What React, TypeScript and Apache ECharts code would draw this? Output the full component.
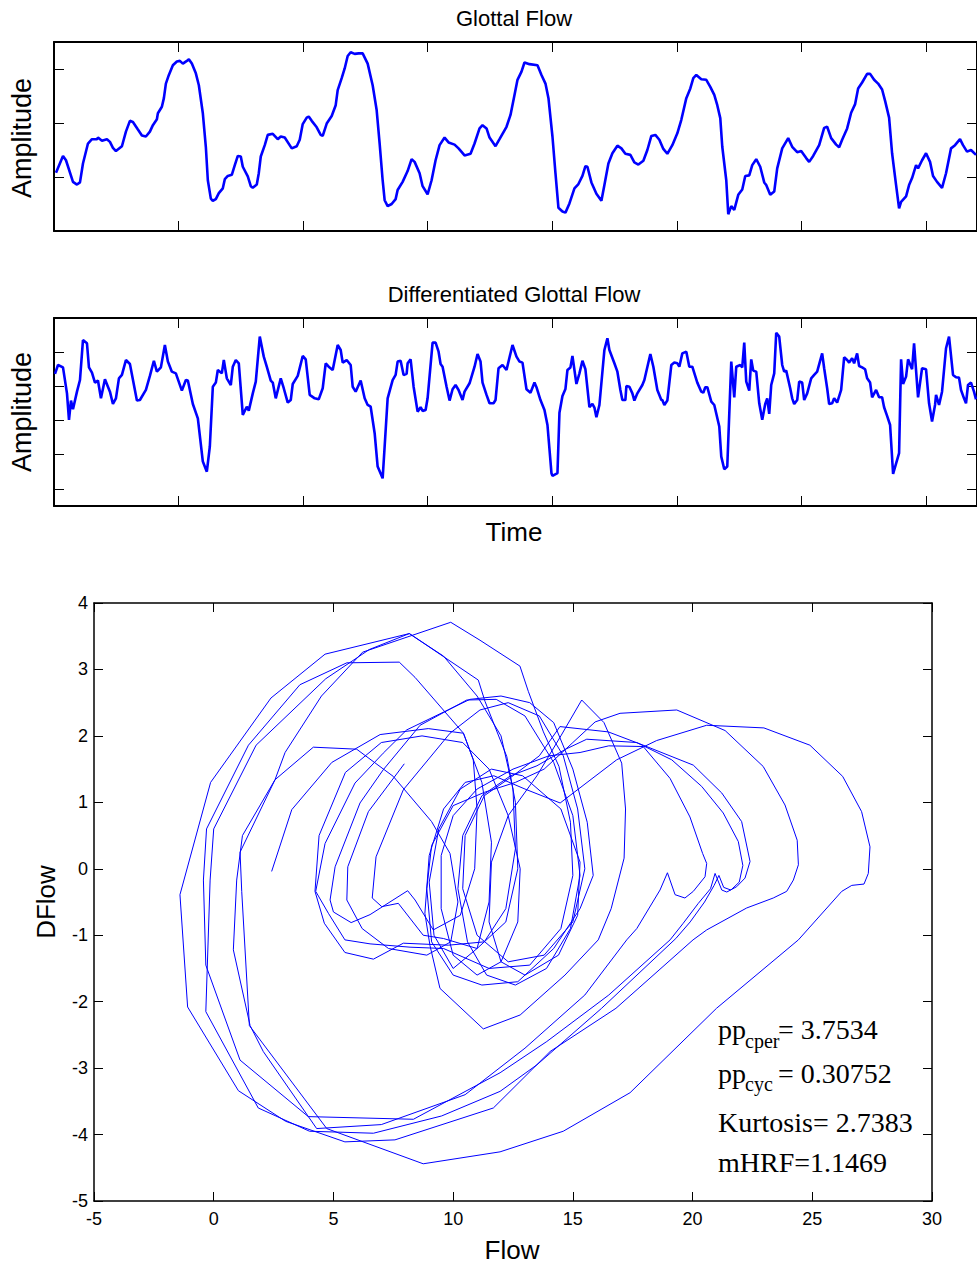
import React, { useEffect, useRef } from "react";
import * as echarts from "echarts";

// ---------- data ----------
// Time index (samples) / amplitude pairs, top panel
const glottalFlow: number[][] = [
  [2,1.08],[9,1.39],[12,1.31],[19,0.91],[23,0.86],[26,0.90],[29,1.25],[34,1.62],[38,1.70],[43,1.70],[44,1.73],[48,1.67],[53,1.70],[56,1.65],[59,1.54],[62,1.48],[68,1.57],[72,1.84],[76,2.04],[79,2.02],[84,1.88],[88,1.77],[92,1.75],[96,1.84],[99,1.96],[103,2.07],[104,2.18],[108,2.30],[110,2.46],[112,2.73],[115,2.89],[119,3.07],[123,3.14],[126,3.15],[129,3.10],[133,3.15],[135,3.18],[138,3.10],[142,2.92],[145,2.70],[149,2.18],[152,1.56],[154,0.94],[157,0.60],[159,0.56],[162,0.59],[165,0.70],[169,0.79],[171,0.96],[174,1.02],[178,1.04],[181,1.22],[184,1.39],[187,1.38],[189,1.19],[194,1.01],[197,0.83],[199,0.80],[203,0.86],[205,1.07],[207,1.38],[211,1.59],[214,1.78],[219,1.80],[224,1.70],[227,1.75],[231,1.73],[238,1.53],[243,1.57],[246,1.69],[249,1.98],[253,2.10],[255,2.12],[258,2.04],[263,1.92],[267,1.78],[269,1.76],[273,1.99],[278,2.13],[282,2.33],[284,2.61],[288,2.83],[291,3.01],[294,3.24],[297,3.31],[301,3.28],[305,3.29],[309,3.29],[314,3.10],[319,2.70],[323,2.24],[326,1.62],[329,0.94],[331,0.57],[334,0.46],[338,0.50],[342,0.59],[344,0.76],[349,0.91],[354,1.11],[358,1.33],[361,1.28],[366,1.07],[369,0.83],[374,0.68],[378,0.94],[382,1.31],[386,1.59],[391,1.73],[395,1.64],[401,1.60],[405,1.53],[411,1.40],[417,1.43],[421,1.62],[426,1.90],[429,1.96],[433,1.90],[436,1.73],[442,1.57],[446,1.70],[453,1.93],[457,2.15],[461,2.52],[464,2.80],[468,2.95],[471,3.12],[476,3.09],[484,3.07],[488,2.89],[492,2.73],[495,2.46],[499,1.75],[502,1.07],[505,0.43],[509,0.36],[512,0.34],[516,0.51],[521,0.79],[525,0.87],[529,1.02],[532,1.20],[534,1.19],[538,0.90],[543,0.69],[548,0.56],[551,0.85],[555,1.25],[559,1.44],[564,1.58],[568,1.53],[572,1.43],[577,1.41],[581,1.27],[585,1.23],[590,1.30],[594,1.50],[598,1.76],[602,1.78],[606,1.69],[610,1.52],[614,1.43],[619,1.59],[624,1.81],[628,2.06],[633,2.46],[637,2.64],[640,2.83],[643,2.89],[648,2.81],[653,2.80],[657,2.67],[661,2.52],[664,2.33],[667,2.09],[669,1.56],[673,0.94],[675,0.31],[678,0.46],[681,0.39],[685,0.67],[689,0.77],[692,1.02],[696,1.03],[699,1.22],[703,1.33],[707,1.19],[711,0.90],[713,0.85],[717,0.67],[721,0.73],[724,1.16],[729,1.53],[735,1.72],[739,1.56],[744,1.46],[748,1.48],[753,1.35],[756,1.28],[760,1.39],[766,1.59],[771,1.91],[774,1.93],[778,1.72],[783,1.60],[786,1.55],[789,1.69],[794,1.90],[798,2.19],[802,2.35],[805,2.64],[809,2.75],[814,2.91],[817,2.91],[821,2.80],[825,2.73],[829,2.62],[832,2.41],[836,2.10],[839,1.44],[843,0.85],[846,0.42],[848,0.54],[853,0.64],[856,0.85],[859,0.98],[863,1.22],[865,1.16],[869,1.31],[873,1.44],[877,1.28],[880,1.02],[884,0.91],[889,0.80],[893,1.07],[898,1.53],[902,1.59],[907,1.70],[910,1.59],[914,1.47],[918,1.50],[923,1.41]
];

// Time index / amplitude pairs, middle panel
const dGlottalFlow: number[][] = [
  [1,6.73],[4,7.25],[9,7.11],[13,5.59],[15,4.04],[17,5.17],[19,4.66],[23,5.69],[26,6.37],[29,8.71],[33,8.52],[35,7.11],[38,6.80],[41,6.22],[44,6.34],[47,5.30],[51,6.41],[56,5.69],[59,4.97],[62,5.30],[65,6.47],[68,6.67],[72,7.54],[76,7.31],[83,5.17],[86,5.20],[92,5.79],[96,6.61],[100,7.50],[103,6.86],[107,7.11],[111,8.42],[114,7.45],[118,6.86],[122,6.76],[128,5.75],[132,6.37],[134,6.34],[139,4.97],[144,4.13],[149,1.60],[153,1.01],[156,2.48],[159,5.98],[162,6.22],[164,6.96],[168,6.76],[170,7.54],[173,6.47],[177,6.08],[179,7.15],[182,7.54],[185,7.35],[189,4.33],[193,4.81],[195,4.58],[199,5.59],[202,6.28],[206,8.91],[210,7.74],[213,7.15],[217,6.34],[219,6.22],[222,5.30],[227,6.47],[230,5.89],[234,5.05],[237,5.20],[239,6.14],[244,6.61],[249,7.78],[252,7.58],[256,5.50],[261,5.30],[265,5.24],[269,5.89],[272,7.35],[275,7.15],[279,6.96],[284,8.42],[287,8.13],[289,7.39],[293,7.54],[297,7.25],[299,5.98],[302,5.69],[307,6.34],[311,5.30],[314,4.91],[317,4.81],[321,3.26],[324,1.31],[329,0.62],[331,2.48],[334,5.30],[339,6.37],[342,6.67],[344,7.45],[347,7.50],[350,6.67],[353,6.73],[354,7.35],[357,7.58],[360,5.98],[364,4.52],[367,4.78],[369,4.56],[372,4.62],[374,5.30],[379,8.56],[382,8.56],[385,8.03],[387,7.31],[389,7.15],[393,5.98],[396,5.17],[399,5.83],[402,6.08],[405,5.79],[409,5.20],[411,5.69],[416,6.18],[421,7.15],[424,7.89],[427,7.45],[429,6.22],[433,5.50],[436,5.01],[440,5.01],[442,5.20],[445,7.06],[449,7.25],[453,6.96],[459,8.42],[463,7.74],[466,7.45],[469,7.39],[473,5.83],[477,5.63],[481,6.22],[483,5.95],[487,5.20],[491,4.62],[494,3.74],[498,0.92],[499,0.76],[504,0.92],[506,4.46],[509,5.44],[512,5.85],[514,6.96],[517,7.11],[519,7.78],[523,6.14],[526,6.76],[529,7.50],[532,7.00],[536,4.78],[539,4.97],[541,4.76],[543,4.19],[546,4.91],[551,8.13],[554,8.81],[556,8.13],[561,7.35],[564,6.86],[567,5.79],[569,5.20],[572,5.20],[573,6.02],[576,5.98],[579,5.59],[581,5.17],[584,5.59],[589,6.08],[591,6.37],[597,7.89],[600,7.15],[604,5.79],[608,5.20],[609,5.20],[611,4.91],[614,5.17],[618,7.25],[621,7.39],[624,7.35],[626,7.15],[629,7.93],[633,8.03],[636,7.15],[639,7.15],[644,6.22],[648,5.69],[650,5.63],[652,5.95],[654,5.95],[658,5.11],[661,4.91],[666,3.65],[668,1.89],[671,1.15],[674,1.31],[678,7.45],[681,5.36],[683,7.15],[687,7.25],[689,7.11],[691,8.56],[693,6.28],[696,5.75],[698,7.58],[700,6.92],[703,6.86],[706,5.01],[709,4.04],[712,4.97],[714,5.30],[716,4.39],[718,6.08],[721,6.76],[723,9.14],[726,8.91],[729,7.25],[731,6.86],[733,6.92],[737,5.89],[739,5.30],[741,4.97],[744,5.20],[746,6.28],[749,6.22],[751,5.20],[754,5.59],[758,6.47],[761,6.67],[764,6.86],[769,7.93],[771,7.06],[774,5.89],[776,4.97],[779,5.01],[781,5.30],[784,5.05],[788,5.79],[791,7.70],[794,7.54],[796,7.39],[799,7.64],[801,7.35],[804,7.93],[806,7.19],[809,7.11],[812,7.00],[814,6.47],[817,6.22],[819,5.36],[823,5.79],[826,5.36],[829,5.36],[831,4.78],[834,4.27],[837,3.74],[840,0.88],[846,2.09],[848,7.58],[850,6.14],[853,6.57],[855,7.58],[859,7.00],[861,8.52],[865,5.36],[869,7.06],[873,7.00],[876,5.01],[879,3.94],[882,4.91],[883,5.50],[886,4.91],[889,5.69],[893,8.23],[896,8.91],[900,6.67],[903,6.53],[906,6.51],[908,5.79],[911,5.30],[913,5.01],[915,6.08],[918,6.22],[921,5.69],[923,5.24]
];

// Phase plot: [Flow, DFlow] in trajectory order
const phasePoints: number[][] = [
  [2.42,-0.04],[3.26,0.89],[4.93,1.60],[6.95,2.02],[8.96,2.11],[10.43,2.04],[11.2,1.3],[11.6,0.4],[11.5,-0.5],[11.0,-1.2],[10.0,-1.5],[9.2,-1.0],[9.0,-0.2],[9.4,0.6],[10.3,1.2],[11.6,1.5],[12.9,1.4],[14.5,0.9],[15.3,0.1],[15.2,-0.7],[14.4,-1.3],[13.0,-1.6],[12.0,-1.4],[11.5,-0.8],[11.6,0.1],[12.3,0.8],[13.5,1.4],[14.5,2.0],[15.37,2.54],[16.3,2.2],[17.04,1.59],[17.2,0.9],[17.14,0.16],[16.6,-0.6],[16.06,-1.07],[14.67,-1.6],[12.8,-2.2],[11.26,-2.41],[9.45,-1.8],[9.03,-1.15],[8.82,-0.67],[9.0,0.2],[9.6,0.9],[10.5,1.3],[11.7,1.4],[13.0,1.2],[14.47,0.99],
  [16.83,1.64],[18.5,1.93],[20.59,2.16],[22.98,2.12],[24.9,1.86],[26.27,1.39],[27.06,0.86],[27.41,0.33],[27.34,-0.07],[27.16,-0.23],[26.65,-0.25],[26.23,-0.34],
  [24.42,-1.07],[21.0,-2.1],[17.39,-3.37],[14.6,-3.95],[11.96,-4.26],[8.75,-4.44],[4.72,-3.91],[1.49,-2.36],[1.17,-0.34],
  [1.1,0.25],[2.56,1.34],[2.98,1.75],[4.5,2.6],[6.22,3.26],[9.9,3.71],[11.12,3.44],[12.79,3.05],[13.14,2.67],[13.77,2.06],[14.42,1.54],[14.9,0.7],[15.0,-0.1],[14.5,-0.9],[13.2,-1.45],[11.5,-1.5],[9.6,-1.2],[8.2,-1.18],[6.53,-1.13],[5.48,-1.07],[4.79,-0.67],[4.26,-0.34],
  [4.65,0.38],[5.9,1.29],[7.08,1.74],[8.06,2.09],[10.7,2.55],[12.0,2.6],[13.2,2.5],[14.2,2.2],[15.0,1.5],[15.6,0.7],[15.85,-0.1],[15.3,-0.6],[14.2,-1.2],[12.7,-1.7],[11.2,-1.75],[10.0,-1.6],[9.1,-1.1],[8.9,-0.3],[9.1,0.35],[10.0,0.95],[11.3,1.15],[12.6,1.3],[13.8,1.5],[15.0,1.9],[15.93,2.21],
  [16.97,2.34],[19.34,2.39],[21.36,2.08],[22.95,1.54],[23.86,0.96],[24.37,0.43],[24.42,0.06],[24.21,-0.17],[23.93,-0.34],[23.37,-0.44],[22.26,-0.59],[20.59,-0.92],[20.02,-1.07],
  [16.8,-2.1],[14.05,-2.75],[11.68,-3.6],[7.57,-4.08],[5.48,-4.11],[3.0,-3.8],[1.03,-3.34],[-1.09,-2.08],[-1.41,-0.39],
  [-0.13,1.30],[2.39,2.57],[4.65,3.23],[8.17,3.54],[11.05,2.84],[11.33,2.52],[12.24,1.69],[12.6,1.0],[12.7,0.0],[12.2,-0.8],[11.0,-1.2],[9.6,-1.05],[8.75,-1.0],[7.71,-0.52],[7.02,-0.57],[6.62,-0.44],
  [6.78,0.18],[7.92,1.19],[9.87,2.04],[11.12,2.39],[12.3,2.5],[13.6,2.3],[14.6,1.7],[15.2,0.9],[15.5,0.0],[15.0,-0.8],[13.8,-1.3],[12.3,-1.4],[11.0,-1.0],[10.4,-0.3],[10.5,0.5],[11.3,1.1],[12.5,1.4],[13.6,1.7],[14.46,2.14],
  [16.48,2.06],[17.94,1.86],[20.03,1.56],[21.22,1.14],[22.05,0.71],[22.40,0.11],[22.19,-0.14],[21.84,-0.27],[21.43,-0.35],[21.22,-0.32],[20.94,-0.07],[20.75,-0.3],[20.24,-0.52],[19.61,-0.82],[19.06,-1.07],
  [16.5,-1.9],[13.91,-2.6],[11.96,-3.07],[8.34,-3.77],[3.95,-3.73],[1.1,-2.88],[-0.33,-1.45],[-0.43,-0.17],
  [-0.3,0.6],[1.45,1.86],[3.6,2.77],[5.56,3.10],[7.75,3.11],[8.41,2.88],[10.43,2.04],[10.84,1.64],[11.0,0.9],[10.9,0.0],[10.3,-0.7],[9.17,-0.92],[8.41,-0.47],[8.1,-0.33],[6.53,-0.69],[5.74,-0.81],[5.0,-0.65],[4.86,-0.47],
  [5.07,0.03],[6.11,0.99],[7.08,1.49],[8.62,2.16],[10.57,2.54],[11.8,2.55],[13.0,2.3],[14.2,1.6],[15.0,0.8],[15.3,-0.1],[14.9,-0.9],[13.9,-1.5],[12.6,-1.75],[11.4,-1.6],[10.6,-1.1],[10.2,-0.3],[10.4,0.5],[11.2,1.1],[12.4,1.4],[13.5,1.55],[14.7,1.8],[15.58,1.95],
  [17.67,1.9],[19.13,1.64],[20.38,1.24],[21.28,0.84],[21.91,0.41],[22.1,0.05],[21.95,-0.2],[21.6,-0.32],[21.3,-0.28],[21.1,-0.1],[20.9,-0.25],[20.5,-0.5],[19.9,-0.8],[19.3,-1.05],
  [16.2,-2.1],[13.5,-2.95],[11.96,-3.35],[9.52,-3.72],[6.67,-3.98],[4.0,-3.95],[1.86,-3.60],[-0.33,-2.15],[-0.15,-0.17],
  [0.0,0.6],[1.77,1.86],[4.68,2.86],[6.5,3.3],[8.17,3.54],[9.6,3.2],[11.0,2.6],[12.0,2.0],[12.5,1.2],[12.6,0.3],[12.2,-0.6],[11.3,-1.1],[9.8,-1.15],[7.92,-1.12],[6.67,-1.36],[5.48,-1.26],[4.62,-0.82],[4.23,-0.34],
  [4.4,0.5],[5.5,1.45],[7.0,1.9],[8.7,2.0],[10.4,1.9],[11.5,1.5],[12.3,0.8],[12.8,0.0],[12.7,-0.8],[12.0,-1.4],[11.0,-1.6],[10.0,-1.3],[9.5,-0.6],[9.5,0.2],[10.0,0.8],[11.0,1.2],[12.5,1.5],[14.0,1.7],[15.3,1.75],[16.5,1.85],[17.94,1.84],
  [19.06,1.36],[19.89,0.78],[20.42,0.23],[20.59,0.08],[20.52,-0.12],[20.03,-0.34],[19.68,-0.44],[19.27,-0.39],[18.95,-0.06],[18.64,-0.32],[17.67,-0.9],[17.25,-1.07],
  [15.5,-1.9],[13.0,-2.7],[10.5,-3.4],[7.0,-3.85],[4.3,-3.91],[2.07,-2.75],[1.52,-2.36],[0.82,-1.22],[0.96,-0.17],
  [1.2,0.5],[2.56,1.34],[4.16,1.83],[5.97,1.80],[7.5,1.39],[9.1,0.71],[9.87,0.23],[10.2,-0.5],[9.9,-1.1],[8.9,-1.3],[7.3,-1.2],[6.2,-0.9],[5.56,-0.47],
  [5.60,0.03],[6.46,0.86],[7.96,1.58]
];

const ppCper = "3.7534";
const ppCyc = "0.30752";
const kurtosis = "2.7383";
const mHRF = "1.1469";

const SANS = "'Liberation Sans', Arial, Helvetica, sans-serif";
const SERIF = "'Liberation Serif', 'Times New Roman', serif";
const BLUE = "#0000ff";

function frameAxis(gridIndex: number, position: string, min: number, max: number, opts: any = {}) {
  const { interval, tickLen = 10, lineWidth = 1.6, labels = false, customTicks } = opts;
  const ax: any = {
    type: "value",
    gridIndex,
    position,
    min,
    max,
    axisLine: { show: true, onZero: false, lineStyle: { color: "#000", width: lineWidth } },
    axisTick: { show: true, inside: true, length: tickLen, lineStyle: { color: "#000", width: 1 } },
    axisLabel: labels
      ? {
          show: true,
          color: "#000",
          fontSize: 18,
          fontFamily: SANS,
          margin: position === "left" ? 6 : 9,
          showMinLabel: true,
          showMaxLabel: true,
        }
      : { show: false },
    splitLine: { show: false },
  };
  if (interval !== undefined) ax.interval = interval;
  if (customTicks) {
    ax.axisTick.customValues = customTicks;
  }
  return ax;
}

function label(text: string, x: number, y: number, fontSize: number, opts: any = {}) {
  return {
    type: "text",
    x,
    y,
    rotation: opts.rotation || 0,
    silent: true,
    style: {
      text,
      fill: "#000",
      fontSize,
      fontFamily: opts.fontFamily || SANS,
      align: opts.align || "center",
      verticalAlign: "middle",
    },
  };
}

export default function App() {
  const ref = useRef<HTMLDivElement>(null);
  useEffect(() => {
    document.body.style.margin = "0";
    const chart = echarts.init(ref.current!, null, { renderer: "svg" });
    const option: any = {
      animation: false,
      backgroundColor: "#fff",
      grid: [
        { left: 54, top: 42, width: 924, height: 189 },
        { left: 54, top: 318, width: 924, height: 188 },
        { left: 94, top: 603, width: 838, height: 598 },
      ],
      xAxis: [
        frameAxis(0, "bottom", 0, 924, { interval: 124.7, lineWidth: 2 }),
        frameAxis(0, "top", 0, 924, { interval: 124.7, lineWidth: 2 }),
        frameAxis(1, "bottom", 0, 924, { interval: 124.7, lineWidth: 2 }),
        frameAxis(1, "top", 0, 924, { interval: 124.7, lineWidth: 2 }),
        frameAxis(2, "bottom", -5, 30, { interval: 5, tickLen: 9, lineWidth: 1.5, labels: true }),
        frameAxis(2, "top", -5, 30, { interval: 5, tickLen: 9, lineWidth: 1.5 }),
      ],
      yAxis: [
        frameAxis(0, "left", 0, 3.5, { interval: 1, lineWidth: 2 }),
        frameAxis(0, "right", 0, 3.5, { interval: 1, lineWidth: 2 }),
        frameAxis(1, "left", -1, 10, { customTicks: [0, 2, 4, 6, 8], lineWidth: 2 }),
        frameAxis(1, "right", -1, 10, { customTicks: [0, 2, 4, 6, 8], lineWidth: 2 }),
        frameAxis(2, "left", -5, 4, { interval: 1, tickLen: 9, lineWidth: 1.5, labels: true }),
        frameAxis(2, "right", -5, 4, { interval: 1, tickLen: 9, lineWidth: 1.5 }),
      ],
      series: [
        {
          type: "line",
          xAxisIndex: 0,
          yAxisIndex: 0,
          data: glottalFlow,
          symbol: "none",
          showSymbol: false,
          silent: true,
          lineStyle: { color: BLUE, width: 2.6 },
        },
        {
          type: "line",
          xAxisIndex: 2,
          yAxisIndex: 2,
          data: dGlottalFlow,
          symbol: "none",
          showSymbol: false,
          silent: true,
          lineStyle: { color: BLUE, width: 2.6 },
        },
        {
          type: "line",
          xAxisIndex: 4,
          yAxisIndex: 4,
          data: phasePoints,
          symbol: "none",
          showSymbol: false,
          silent: true,
          lineStyle: { color: BLUE, width: 1 },
        },
      ],
      graphic: [
        label("Glottal Flow", 514, 18, 22),
        label("Differentiated Glottal Flow", 514, 294, 22),
        label("Amplitude", 22, 138, 27, { rotation: Math.PI / 2 }),
        label("Amplitude", 22, 412, 27, { rotation: Math.PI / 2 }),
        label("Time", 514, 532, 26),
        label("Flow", 512, 1250, 26),
        label("DFlow", 46, 902, 26, { rotation: Math.PI / 2 }),
        label("pp", 718, 1029, 28, { fontFamily: SERIF, align: "left" }),
        label("cper", 745, 1041, 20, { fontFamily: SERIF, align: "left" }),
        label("= " + ppCper, 778, 1029, 28, { fontFamily: SERIF, align: "left" }),
        label("pp", 718, 1073, 28, { fontFamily: SERIF, align: "left" }),
        label("cyc", 745, 1084, 20, { fontFamily: SERIF, align: "left" }),
        label("= " + ppCyc, 778, 1073, 28, { fontFamily: SERIF, align: "left" }),
        label("Kurtosis= " + kurtosis, 718, 1122, 28, { fontFamily: SERIF, align: "left" }),
        label("mHRF=" + mHRF, 718, 1162, 28, { fontFamily: SERIF, align: "left" }),
      ],
    };
    chart.setOption(option);
    return () => chart.dispose();
  }, []);
  return <div ref={ref} style={{ width: 977, height: 1265 }} />;
}
